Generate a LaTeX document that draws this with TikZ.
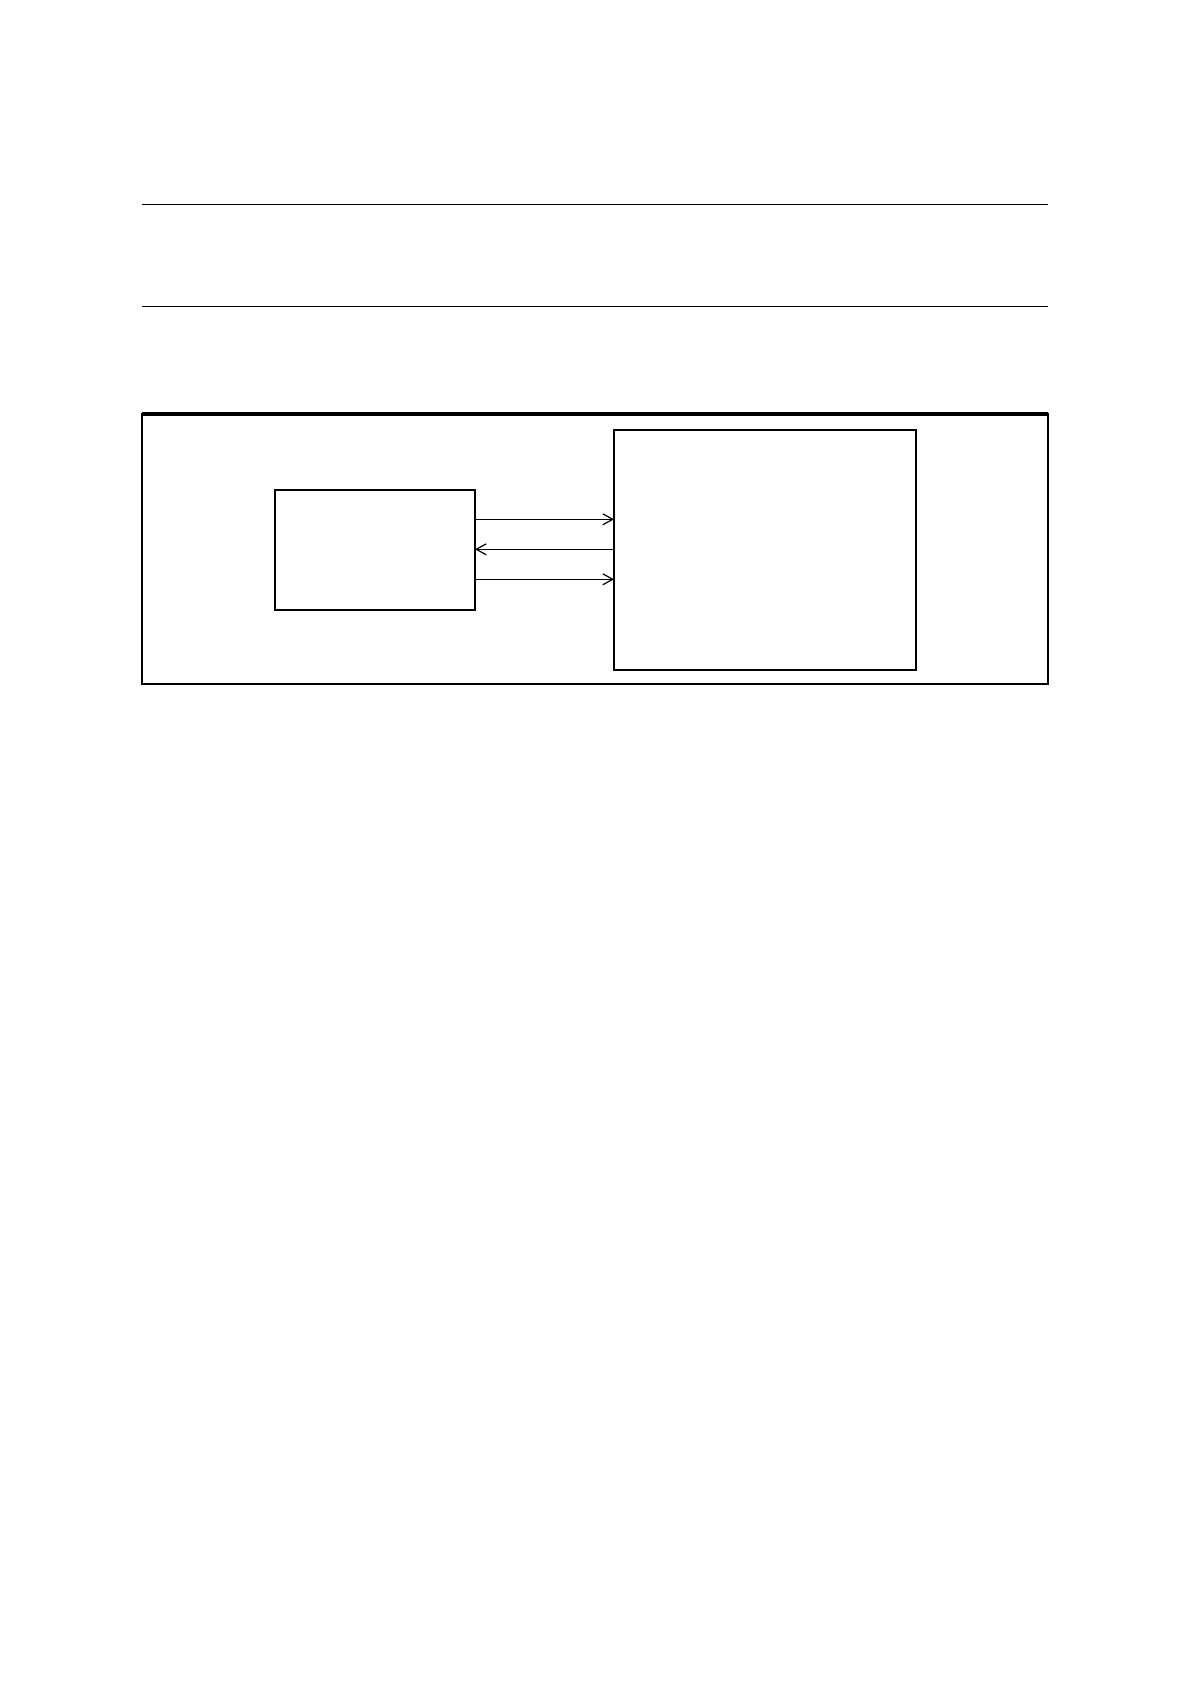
\documentclass[tikz,border=0pt]{standalone}
\usetikzlibrary{arrows.meta}
\begin{document}
\begin{tikzpicture}[x=0.5pt,y=-0.5pt,
  rulex/.style={line width=0.7pt},
  boxnode/.style={draw, line width=1pt, rectangle, inner sep=0pt, outer sep=0pt},
  conn/.style={line width=0.5pt, -{Straight Barb[length=5pt,width=5.5pt,line width=0.6pt]}}]
\useasboundingbox[fill=white] (0,0) rectangle (1190,1684);
% top rules
\coordinate (r1a) at (142,204.3);
\coordinate (r1b) at (1048,204.3);
\coordinate (r2a) at (142,306.3);
\coordinate (r2b) at (1048,306.3);
\draw[rulex] (r1a) -- (r1b);
\draw[rulex] (r2a) -- (r2b);
% outer frame
\node[boxnode, line width=1.1pt, minimum width=453pt, minimum height=135pt] (frame) at (595,549) {};
\draw[line width=1.6pt] (frame.north west) -- (frame.north east);
% boxes
\node[boxnode, minimum width=100pt, minimum height=60pt] (L) at (375,550) {};
\node[boxnode, minimum width=151pt, minimum height=120pt] (R) at (765,550) {};
% connectors
\coordinate (y1) at (0,519.3);
\coordinate (y2) at (0,549.3);
\coordinate (y3) at (0,579.3);
\draw[conn] (L.east |- y1) -- (R.west |- y1);
\draw[conn] (R.west |- y2) -- (L.east |- y2);
\draw[conn] (L.east |- y3) -- (R.west |- y3);
\end{tikzpicture}
\end{document}
